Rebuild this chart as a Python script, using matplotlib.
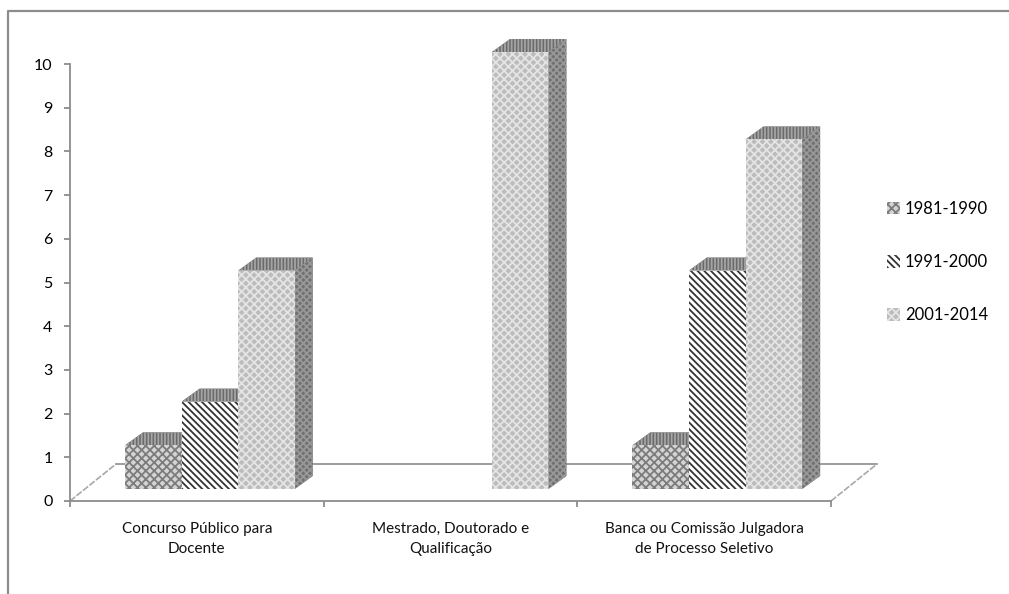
import matplotlib
matplotlib.use('Agg')
import matplotlib.pyplot as plt
from matplotlib.lines import Line2D
from matplotlib.patches import Patch, Polygon

plt.rcParams['font.family'] = ['Lato', 'DejaVu Sans']
plt.rcParams['hatch.linewidth'] = 1.3

categories = ['Concurso Público para\nDocente',
              'Mestrado, Doutorado e\nQualificação',
              'Banca ou Comissão Julgadora\nde Processo Seletivo']
periods = ['1981-1990', '1991-2000', '2001-2014']
values_1981 = [1, 0, 1]
values_1991 = [2, 0, 5]
values_2001 = [5, 10, 8]
y_ticks = [0, 1, 2, 3, 4, 5, 6, 7, 8, 9, 10]

W, H = 1009, 594
GREY = '#8c8c8c'

fig = plt.figure(figsize=(W / 100, H / 100), dpi=100)
# plot area is 761 x 437 px with its origin at (70, 501)
ax = fig.add_axes([70 / W, 1 - 501 / H, 761 / W, 437 / H])
ax.set_xlim(0, 3)
ax.set_ylim(0, 10)
px = 3 / 761
py = 10 / 437

# 3D look: depth of the bars and of the floor, in data units
depth_x, depth_y = 18 * px, 13 * py
floor_x, floor_y = 46 * px, 37 * py
base = 12 * py
bar_w = 56.6 * px
group_start = 55 * px

# frame around the chart
fig.add_artist(Line2D([8 / W, 8 / W, 1], [0, 1 - 11 / H, 1 - 11 / H], color=GREY, lw=1.6))

# floor
ax.plot([floor_x, 3 + floor_x], [floor_y, floor_y], color=GREY, lw=1.2, clip_on=False, zorder=1)
ax.plot([0, floor_x], [0, floor_y], color='#a8a8a8', lw=1.2, ls=(0, (4, 1)), clip_on=False, zorder=1)
ax.plot([3, 3 + floor_x], [0, floor_y], color='#a8a8a8', lw=1.2, ls=(0, (4, 1)), clip_on=False, zorder=1)

styles = [
    dict(facecolor='#d4d4d4', edgecolor='#7c7c7c', hatch='x' * 4),
    dict(facecolor='white', edgecolor='#333333', hatch='\\' * 5),
    dict(facecolor='#bcbcbc', edgecolor='#e4e4e4', hatch='x' * 4),
]
series = [values_1981, values_1991, values_2001]


def draw_bar(x, value, style, z):
    top = base + value
    # top face, then side face, then the front
    ax.add_patch(Polygon([(x, top), (x + bar_w, top), (x + bar_w + depth_x, top + depth_y), (x + depth_x, top + depth_y)],
                         facecolor='#6a6a6a', edgecolor='#a4a4a4', hatch='|' * 5, lw=0, clip_on=False, zorder=z))
    ax.add_patch(Polygon([(x + bar_w, base), (x + bar_w + depth_x, base + depth_y), (x + bar_w + depth_x, top + depth_y), (x + bar_w, top)],
                         facecolor='#707070', edgecolor='#989898', hatch='x' * 5, lw=0, clip_on=False, zorder=z))
    ax.bar(x, value, width=bar_w, bottom=base, align='edge', lw=0, clip_on=False, zorder=z + 0.5, **style)


for c in range(len(categories)):
    for s in range(len(series)):
        if series[s][c] > 0:
            x = c + group_start + s * bar_w
            draw_bar(x, series[s][c], styles[s], 3 + s - 0.01 * s)

# axes
for side in ['top', 'right']:
    ax.spines[side].set_visible(False)
for side in ['left', 'bottom']:
    ax.spines[side].set_color(GREY)
    ax.spines[side].set_linewidth(1.3)
ax.patch.set_visible(False)
ax.set_yticks(y_ticks)
ax.set_xticks([0, 1, 2, 3])
ax.set_xticklabels([])
ax.tick_params(axis='both', color=GREY, width=1.3, length=4.5, labelsize=11.5, labelcolor='black')
ax.tick_params(axis='y', pad=8)

for c, label in enumerate(categories):
    ax.text(c + 0.5, -0.47, label, ha='center', va='top', fontsize=11, linespacing=1.57, color='#111111')

handles = [Patch(**styles[i], lw=0, label=periods[i]) for i in range(3)]
fig.legend(handles=handles, loc='center left', bbox_to_anchor=(872 / W, 1 - 262 / H), frameon=False,
           fontsize=12, labelspacing=2.23, handlelength=0.8, handleheight=0.8, handletextpad=0.27)

fig.savefig('out.png', dpi=100)
